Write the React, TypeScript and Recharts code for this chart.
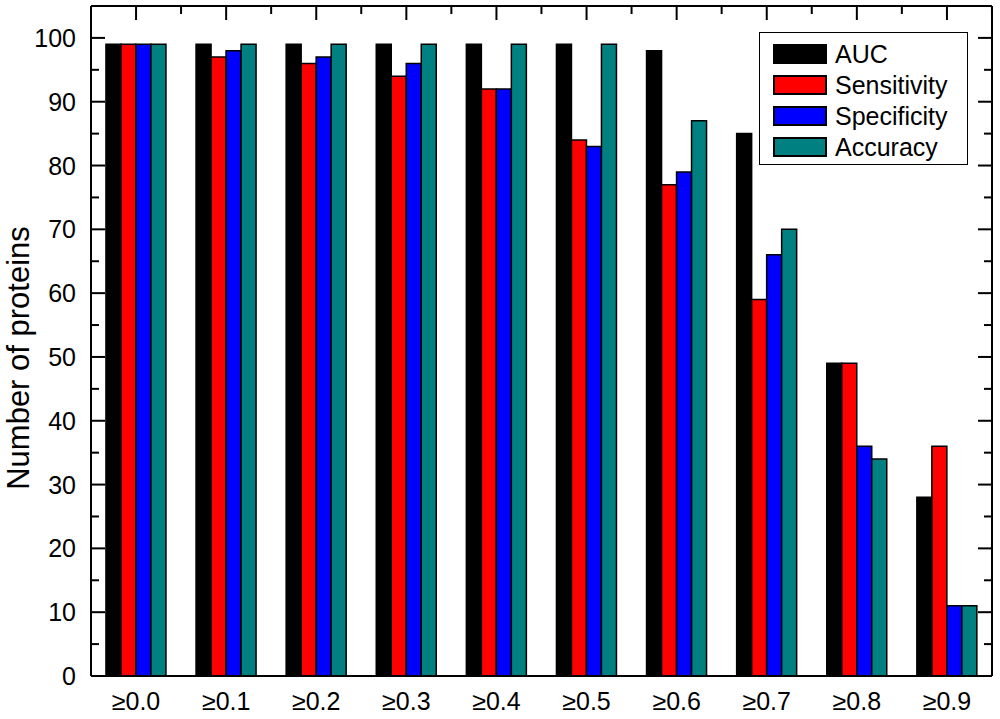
import { Bar, BarChart, Legend, ReferenceLine, XAxis, YAxis } from "recharts";

const categories = ["≥0.0", "≥0.1", "≥0.2", "≥0.3", "≥0.4", "≥0.5", "≥0.6", "≥0.7", "≥0.8", "≥0.9"];
const auc = [99, 99, 99, 99, 99, 99, 98, 85, 49, 28];
const sensitivity = [99, 97, 96, 94, 92, 84, 77, 59, 49, 36];
const specificity = [99, 98, 97, 96, 92, 83, 79, 66, 36, 11];
const accuracy = [99, 99, 99, 99, 99, 99, 87, 70, 34, 11];
const yTicks = [0, 5, 10, 15, 20, 25, 30, 35, 40, 45, 50, 55, 60, 65, 70, 75, 80, 85, 90, 95, 100];
const yMax = 105;

const series = [
  { key: "auc", name: "AUC", color: "#000000" },
  { key: "sensitivity", name: "Sensitivity", color: "#ff0000" },
  { key: "specificity", name: "Specificity", color: "#0000ff" },
  { key: "accuracy", name: "Accuracy", color: "#008080" },
];

const data = categories.map((cat, i) => ({
  cat,
  auc: auc[i],
  sensitivity: sensitivity[i],
  specificity: specificity[i],
  accuracy: accuracy[i],
}));

const FONT = '"Liberation Sans", Arial, Helvetica, sans-serif';
// plot box edges, used for the mirrored inward ticks on top and right
const PLOT_TOP = 6;
const PLOT_RIGHT = 992;
const MAJOR = 14;
const MINOR = 8;
const HALF_BAND = 45;

function LeftTick(props: any) {
  const { x, y, payload } = props;
  const len = payload.value % 10 === 0 ? MAJOR : MINOR;
  return (
    <g>
      <line x1={x} x2={x + len} y1={y} y2={y} stroke="#000" strokeWidth={2} />
      <line x1={PLOT_RIGHT} x2={PLOT_RIGHT - len} y1={y} y2={y} stroke="#000" strokeWidth={2} />
      {len === MAJOR && (
        <text x={x - 15} y={y} dy="0.36em" textAnchor="end" fontSize={25} fontFamily={FONT} fill="#000">
          {payload.value}
        </text>
      )}
    </g>
  );
}

function BottomTick(props: any) {
  const { x, y, payload } = props;
  return (
    <g>
      <line x1={x} x2={x} y1={PLOT_TOP} y2={PLOT_TOP + MAJOR} stroke="#000" strokeWidth={2} />
      <line x1={x + HALF_BAND} x2={x + HALF_BAND} y1={PLOT_TOP} y2={PLOT_TOP + MINOR} stroke="#000" strokeWidth={2} />
      <text x={x} y={y} dy="0.71em" textAnchor="middle" fontSize={25} fontFamily={FONT} fill="#000">
        {payload.value}
      </text>
    </g>
  );
}

function YTitle() {
  return (
    <text
      x={0}
      y={0}
      transform="translate(18, 358) rotate(-90)"
      dy="0.355em"
      textAnchor="middle"
      fontSize={31}
      fontFamily={FONT}
      fill="#000"
    >
      Number of proteins
    </text>
  );
}

function LegendBox() {
  return (
    <div
      style={{
        width: 209,
        height: 133,
        boxSizing: "border-box",
        border: "1px solid #000",
        background: "#fff",
        position: "relative",
        fontFamily: FONT,
        fontSize: 25,
        color: "#000",
      }}
    >
      {series.map((s, i) => (
        <div
          key={s.key}
          style={{
            position: "absolute",
            left: 13,
            top: 10 + i * 31,
            height: 22,
            display: "flex",
            alignItems: "center",
            whiteSpace: "nowrap",
          }}
        >
          <div
            style={{
              width: 54,
              height: 20,
              boxSizing: "border-box",
              background: s.color,
              border: "2px solid #000",
              marginRight: 8,
            }}
          />
          <span style={{ lineHeight: "22px" }}>{s.name}</span>
        </div>
      ))}
    </div>
  );
}

const frameLine = { stroke: "#000", strokeWidth: 2 };

export default function App() {
  return (
    <div
      style={{
        position: "fixed",
        left: 0,
        top: 0,
        width: 1000,
        height: 719,
        background: "#fff",
      }}
    >
      <BarChart
        width={1000}
        height={719}
        data={data}
        margin={{ top: PLOT_TOP, right: 1000 - PLOT_RIGHT, bottom: 0, left: 0 }}
        barCategoryGap="16.6%"
        barGap={0}
      >
        <XAxis
          dataKey="cat"
          height={43}
          axisLine={frameLine}
          tickSize={0}
          tickMargin={16}
          tick={<BottomTick />}
          interval={0}
        />
        <YAxis
          width={91}
          domain={[0, yMax]}
          ticks={yTicks}
          interval={0}
          axisLine={frameLine}
          tickSize={0}
          tickMargin={0}
          tick={<LeftTick />}
          label={{ content: () => <YTitle /> }}
        />
        <ReferenceLine y={yMax} stroke="#000" strokeWidth={2} />
        <ReferenceLine x={categories[categories.length - 1]} position="end" stroke="#000" strokeWidth={2} />
        <Legend
          layout="vertical"
          align="center"
          verticalAlign="middle"
          content={() => <LegendBox />}
          wrapperStyle={{ position: "absolute", left: 759, top: 32, width: 209, height: 133 }}
        />
        {series.map((s) => (
          <Bar
            key={s.key}
            dataKey={s.key}
            name={s.name}
            fill={s.color}
            stroke="#000"
            strokeWidth={1.5}
            isAnimationActive={false}
          />
        ))}
      </BarChart>
    </div>
  );
}
